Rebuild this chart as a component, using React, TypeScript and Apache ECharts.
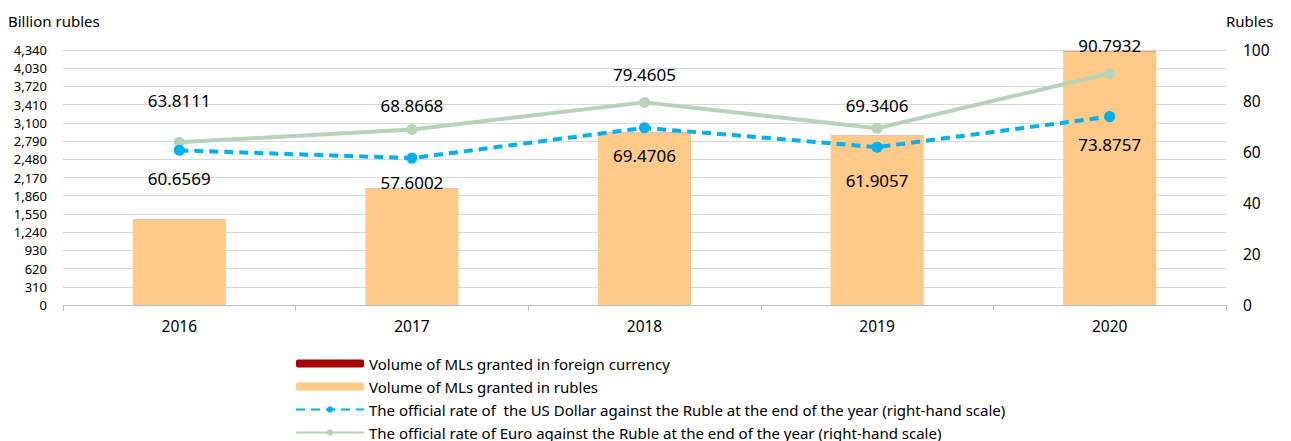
import React, { useEffect, useRef } from "react";
import * as echarts from "echarts";

const years = ["2016", "2017", "2018", "2019", "2020"];
const rublesVolume = [1447, 1974, 2927, 2876, 4320];
const foreignVolume = [4, 3, 3, 3, 3];
const usdRate = [60.6569, 57.6002, 69.4706, 61.9057, 73.8757];
const eurRate = [63.8111, 68.8668, 79.4605, 69.3406, 90.7932];

// per-point label nudges (pixels, positive = further from the point)
const usdLabelNudge = [0, -4, 0, 5, 0];
const eurLabelNudge = [14, -4, 0, -5, 0];

const seriesNames = [
  "Volume of MLs granted in foreign currency",
  "Volume of MLs granted in rubles",
  "The official rate of  the US Dollar against the Ruble at the end of the year (right-hand scale)",
  "The official rate of Euro against the Ruble at the end of the year (right-hand scale)",
];

const FONT = "'Noto Sans', sans-serif";

export default function App() {
  const ref = useRef<HTMLDivElement>(null);
  useEffect(() => {
    if (!ref.current) return;
    const chart = echarts.init(ref.current, null, { renderer: "svg" });
    const labelBase = { show: true, fontSize: 17, color: "#000" };
    chart.setOption({
      animation: false,
      textStyle: { fontFamily: FONT },
      grid: { left: 63, right: 65, top: 50, bottom: 136 },
      legend: {
        orient: "vertical",
        left: 295,
        top: 356,
        height: 200,
        padding: 0,
        itemWidth: 68,
        itemHeight: 8,
        itemGap: 8,
        data: seriesNames,
        textStyle: { fontSize: 15, color: "#000", fontFamily: FONT },
      },
      xAxis: {
        type: "category",
        data: years,
        axisLine: { lineStyle: { color: "#bfbfbf" } },
        axisTick: { show: true, length: 6, lineStyle: { color: "#bfbfbf" } },
        axisLabel: { fontSize: 15.5, color: "#000", margin: 13 },
      },
      yAxis: [
        {
          type: "value",
          min: 0,
          max: 4340,
          interval: 310,
          name: "Billion rubles",
          nameLocation: "end",
          nameGap: 22,
          nameTextStyle: { fontSize: 15, color: "#000", align: "left", padding: [0, 0, 0, -55] },
          axisLine: { show: false },
          axisTick: { show: false },
          axisLabel: {
            fontSize: 13,
            lineHeight: 15,
            color: "#000",
            margin: 16,
            formatter: (v: number) => v.toLocaleString("en-US"),
          },
          splitLine: { lineStyle: { color: "#d9d9d9" } },
        },
        {
          type: "value",
          min: 0,
          max: 100,
          interval: 20,
          name: "Rubles",
          nameLocation: "end",
          nameGap: 22,
          nameTextStyle: { fontSize: 15, color: "#000", align: "left", padding: [0, 0, 0, 0] },
          axisLine: { show: false },
          axisTick: { show: false },
          axisLabel: { fontSize: 15.5, color: "#000", margin: 17 },
          splitLine: { show: false },
        },
      ],
      series: [
        {
          name: seriesNames[1],
          type: "bar",
          stack: "vol",
          data: rublesVolume,
          barWidth: "40%",
          itemStyle: { color: "#ffc988" },
        },
        {
          name: seriesNames[0],
          type: "bar",
          stack: "vol",
          data: foreignVolume,
          barWidth: "40%",
          itemStyle: { color: "#a80000" },
        },
        {
          name: seriesNames[2],
          type: "line",
          yAxisIndex: 1,
          data: usdRate.map((v, i) => ({
            value: v,
            label: { ...labelBase, position: "bottom", distance: 14 + usdLabelNudge[i] },
          })),
          symbol: "circle",
          symbolSize: 11,
          lineStyle: { color: "#00b0f0", width: 4, type: [9, 6] },
          itemStyle: { color: "#00b0f0" },
          label: { ...labelBase, position: "bottom", distance: 14 },
          z: 5,
        },
        {
          name: seriesNames[3],
          type: "line",
          yAxisIndex: 1,
          data: eurRate.map((v, i) => ({
            value: v,
            label: { ...labelBase, position: "top", distance: 14 + eurLabelNudge[i] },
          })),
          symbol: "circle",
          symbolSize: 11,
          lineStyle: { color: "#b7d4b8", width: 4 },
          itemStyle: { color: "#b7d4b8" },
          label: { ...labelBase, position: "top", distance: 14 },
          z: 4,
        },
      ],
    });
    return () => chart.dispose();
  }, []);
  return <div ref={ref} style={{ width: 1291, height: 441, position: "absolute", left: 0, top: 0 }} />;
}
